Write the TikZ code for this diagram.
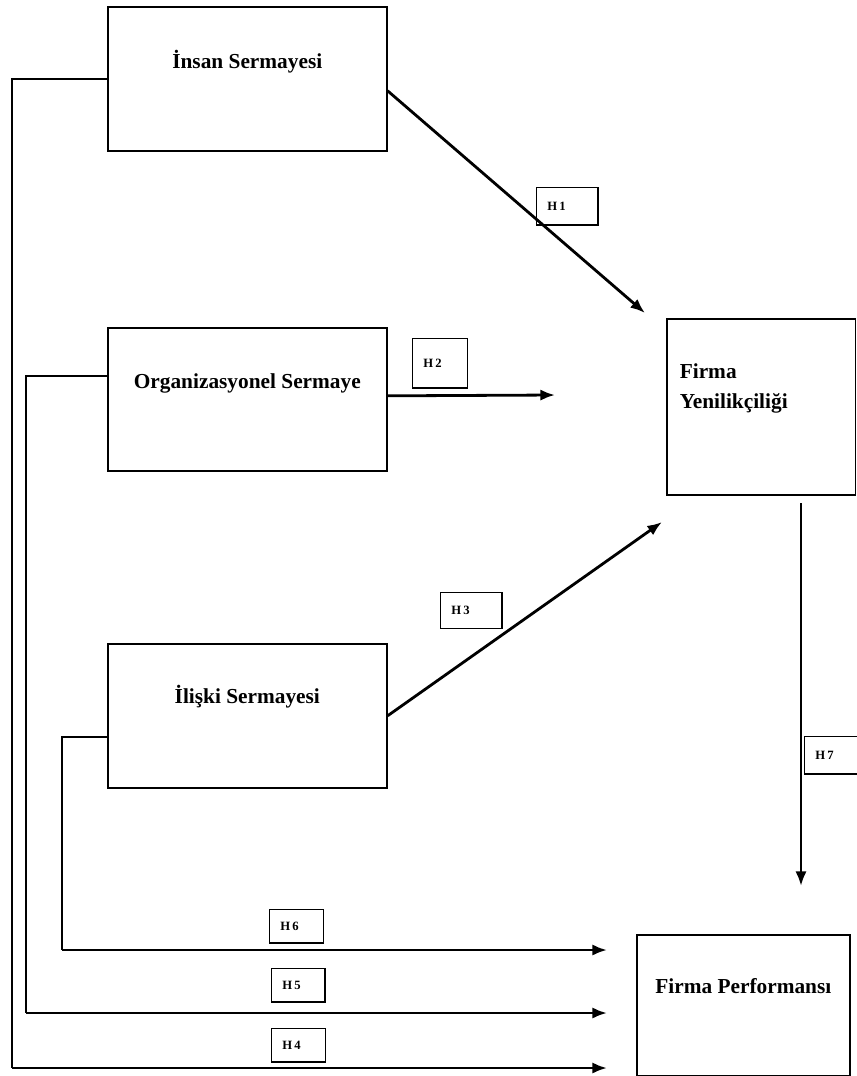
\documentclass[tikz,border=0pt]{standalone}
\usepackage{fontspec}
\setmainfont{Liberation Serif}
\usetikzlibrary{arrows.meta}
\tikzset{
  varbox/.style={draw,line width=1.2pt,anchor=north west,inner sep=0pt,minimum width=209.25pt,font=\fontsize{16}{22}\selectfont\bfseries},
  hbox/.style 2 args={draw,line width=1pt,anchor=north west,inner xsep=8pt,inner ysep=0pt,align=left,text width=#1,minimum height=#2,font=\fontsize{9.5}{10}\selectfont\bfseries},
  link/.style={line width=1.1pt},
  arr/.style={line width=2.1pt,-{Latex[length=11pt,width=8.5pt]}}
}

\begin{document}
\begin{tikzpicture}[x=0.75pt,y=-0.75pt]
\useasboundingbox (0,0) rectangle (857,1076);

\node [varbox,text height=46.5pt,text depth=61.5pt] (insan) at (107,6) {İnsan Sermayesi};
\node [varbox,text height=45.75pt,text depth=61.5pt] (org) at (107,327) {Organizasyonel Sermaye};
\node [varbox,text height=45pt,text depth=63pt] (ilis) at (107,643) {İlişki Sermayesi};
\node [varbox,minimum width=0pt,inner xsep=9.75pt,text width=122pt,align=left,text height=45pt,text depth=87pt] (yen) at (666,318) {Firma\\Yenilikçiliği};
\node [varbox,minimum width=159.75pt,text height=44.25pt,text depth=61.5pt] (perf) at (636,934) {Firma Performansı};

\node [hbox={30pt}{28pt}] (h1) at (536,187) {H\,1};
\node [hbox={25pt}{37pt}] (h2) at (412,338) {H\,2};
\node [hbox={30pt}{27pt}] (h3) at (440,592) {H\,3};
\node [hbox={24.5pt}{25pt}] (h6) at (269,909) {H\,6};
\node [hbox={24pt}{25pt}] (h5) at (271,968) {H\,5};
\node [hbox={24.5pt}{25pt}] (h4) at (271,1028) {H\,4};
\node [hbox={30pt}{28pt}] (h7) at (804,736) {H\,7};

\coordinate (e1) at (645,313);
\coordinate (e2) at (555,395);
\coordinate (e3) at (662,522);
\coordinate (s7) at (801,503);
\coordinate (e7) at (801,886);
\coordinate (c6) at (62,950);
\coordinate (c5) at (26,1013);
\coordinate (c4) at (12,1068);
\coordinate (e6) at (607,950);
\coordinate (e5) at (607,1013);
\coordinate (e4) at (607,1068);

\draw [arr] ([yshift=-9pt]insan.east) -- (e1);
\draw [arr] ([yshift=2.6pt]org.east) -- (e2);
\draw [arr] (ilis.east) -- (e3);
\draw [arr] (s7) -- (e7);

\draw [link] ([yshift=-15.75pt]ilis.west) -| (c6);
\draw [arr] (c6) -- (e6);
\draw [link] ([yshift=17.6pt]org.west) -| (c5);
\draw [arr] (c5) -- (e5);
\draw [link] (insan.west) -| (c4);
\draw [arr] (c4) -- (e4);
\end{tikzpicture}
\end{document}
